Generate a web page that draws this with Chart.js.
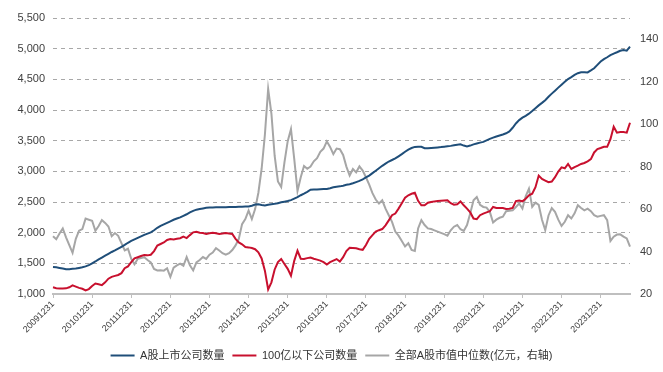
<!DOCTYPE html>
<html>
<head>
<meta charset="utf-8">
<script src="https://cdn.jsdelivr.net/npm/chart.js@4.4.1/dist/chart.umd.min.js"></script>
<style>
html, body { margin: 0; padding: 0; background: #fff; }
#wrap { width: 663px; height: 372px; position: relative; }
</style>
</head>
<body>
<div id="wrap"><canvas id="chart"></canvas></div>
<script>
// month-end dates, 2009-12 .. 2024-09
var categories = [];
for (var y = 2009; y <= 2024; y++) {
  for (var m = 1; m <= 12; m++) {
    if (y === 2009 && m < 12) continue;
    if (y === 2024 && m > 9) break;
    var d = new Date(y, m, 0).getDate();
    categories.push('' + y + (m < 10 ? '0' : '') + m + d);
  }
}

var tickLabels = ['20091231','20101231','20111231','20121231','20131231','20141231','20151231',
  '20161231','20171231','20181231','20191231','20201231','20211231','20221231','20231231'];
var rightTicks = [20, 40, 60, 80, 100, 120, 140];

// A股上市公司数量
var listed = [
  1440,1435,1425,1415,1405,1405,1410,1415,1425,1435,1450,1470,
  1500,1530,1565,1595,1625,1655,1685,1710,1740,1770,1800,1835,
  1865,1890,1915,1940,1965,1985,2005,2040,2080,2110,2135,2160,
  2185,2210,2230,2250,2275,2300,2330,2355,2375,2385,2395,2405,
  2410,2412,2414,2415,2415,2416,2418,2420,2420,2422,2423,2425,
  2428,2440,2460,2462,2450,2445,2455,2465,2470,2480,2495,2505,
  2515,2530,2555,2580,2610,2635,2665,2700,2705,2705,2708,2710,
  2712,2725,2740,2750,2755,2765,2780,2790,2805,2825,2845,2870,
  2900,2930,2970,3010,3050,3090,3125,3160,3185,3210,3245,3280,
  3320,3355,3380,3398,3402,3400,3378,3375,3380,3385,3390,3395,
  3402,3408,3415,3425,3433,3440,3420,3405,3420,3440,3455,3468,
  3480,3505,3530,3550,3568,3585,3600,3620,3650,3710,3780,3835,
  3875,3905,3940,3982,4030,4075,4116,4160,4215,4267,4315,4365,
  4413,4460,4505,4537,4572,4600,4615,4617,4612,4645,4680,4736,
  4790,4830,4860,4895,4920,4941,4965,4978,4968,5032
];

// 100亿以下公司数量
var small = [
  1110,1095,1090,1088,1092,1110,1140,1120,1100,1085,1060,1080,
  1130,1170,1160,1145,1190,1250,1280,1295,1310,1340,1420,1450,
  1520,1580,1600,1620,1635,1630,1640,1700,1790,1815,1840,1880,
  1895,1890,1900,1909,1935,1912,1960,2005,2015,2000,1995,1980,
  1990,2000,1990,1978,1985,1995,1985,1980,1900,1840,1810,1765,
  1760,1750,1730,1680,1580,1380,1075,1190,1400,1520,1570,1490,
  1410,1300,1540,1705,1575,1570,1585,1595,1575,1560,1545,1520,
  1480,1520,1545,1570,1530,1600,1700,1755,1750,1745,1730,1720,
  1800,1900,1960,2016,2040,2059,2120,2200,2285,2312,2392,2480,
  2570,2610,2634,2650,2520,2446,2446,2489,2500,2510,2515,2521,
  2525,2527,2480,2457,2462,2510,2446,2392,2330,2231,2220,2285,
  2311,2330,2349,2419,2403,2403,2403,2385,2390,2403,2515,2525,
  2511,2554,2608,2635,2742,2931,2877,2850,2823,2834,2904,2996,
  3066,3050,3120,3039,3070,3093,3120,3136,3163,3200,3308,3362,
  3380,3400,3400,3524,3728,3631,3642,3640,3631,3793
];

// 全部A股市值中位数(亿元), right axis
var median = [
  47.2,45.8,48.5,50.9,46.7,43,39.4,46,49.8,50.6,55.5,55,
  54.5,49.8,52,54.8,53.5,51.8,47.2,48.7,47.4,44,40.5,41.3,
  36.6,34,36.6,37,37.3,36,34.9,31.8,31.1,31.2,31,32.1,
  28.1,32.4,33.5,34.3,33.3,37.4,33.5,31.1,34.9,36,37.4,36.5,
  38.5,39.5,41.6,40.5,39.2,38.5,39.2,40.7,42.9,46,52.9,55.3,
  59.3,55.3,60,67.7,79,95,116.6,105,85,73,70.4,82,
  92,97.7,83.6,68.5,75,80.3,79,80,82.5,84,87,88.5,
  91.9,89.3,85.9,88.5,88.2,85.5,80,75.8,78.9,77.3,80.1,78.1,
  75,71.5,67.5,64.5,62.6,64.1,60.2,57.1,54,49.4,47.5,45,
  42.4,43.9,40.8,40.3,50.9,54.8,52.5,50.9,50.6,50,49.4,48.8,
  48.2,47.5,50,51.7,52.5,50.5,49.7,52.5,58,64.1,65.7,62,
  61,60.7,58.7,53.7,55,55.9,56.4,59,59.2,59.4,61,62.6,
  60.2,66,69.6,61,63,62,55,50.1,57,60.5,58.7,55,
  52.1,54,57.1,55.6,58,61.8,60.5,59.4,60.2,59,57.1,56.4,
  56.8,57.1,54.8,45,47,48,48.1,47,46.2,42.3
];

Chart.defaults.font.family = "'Liberation Sans', Arial, sans-serif";
Chart.defaults.color = '#404040';

var ctx = document.getElementById('chart');
var myChart = new Chart(ctx, {
  type: 'line',
  data: {
    labels: categories,
    datasets: [{
      label: 'A股上市公司数量',
      data: listed,
      borderColor: '#1f4e79',
      backgroundColor: '#1f4e79',
      borderWidth: 2,
      pointRadius: 0,
      tension: 0,
      yAxisID: 'y'
    }, {
      label: '100亿以下公司数量',
      data: small,
      borderColor: '#c8102e',
      backgroundColor: '#c8102e',
      borderWidth: 2,
      pointRadius: 0,
      tension: 0,
      yAxisID: 'y'
    }, {
      label: '全部A股市值中位数(亿元，右轴)',
      data: median,
      borderColor: '#a6a6a6',
      backgroundColor: '#a6a6a6',
      borderWidth: 2,
      pointRadius: 0,
      tension: 0,
      yAxisID: 'y2'
    }]
  },
  options: {
    responsive: true,
    maintainAspectRatio: false,
    animation: false,
    layout: { padding: { top: 18, right: 0, bottom: 1, left: 0 } },
    plugins: {
      tooltip: { enabled: false },
      legend: {
        position: 'bottom',
        labels: {
          usePointStyle: true,
          pointStyle: 'line',
          pointStyleWidth: 24,
          padding: 8,
          color: '#333',
          font: { family: "'Liberation Sans', 'Noto Sans CJK SC', sans-serif", size: 11 }
        }
      }
    },
    scales: {
      x: {
        offset: false,
        grid: {
          drawOnChartArea: false,
          drawTicks: true,
          tickLength: 4,
          tickWidth: 1,
          tickColor: '#bfbfbf',
          color: '#bfbfbf'
        },
        border: { display: true, color: '#bfbfbf', width: 2 },
        afterBuildTicks: function(scale) {
          scale.ticks = scale.ticks.filter(function(t) {
            return tickLabels.indexOf(categories[t.value]) >= 0;
          });
        },
        afterFit: function(scale) { scale.height = 48; },
        ticks: {
          autoSkip: false,
          maxRotation: 45,
          minRotation: 45,
          padding: 1,
          color: '#404040',
          font: { size: 9 }
        }
      },
      y: {
        position: 'left',
        min: 1000,
        max: 5500,
        grid: {
          color: '#a8a8a8',
          lineWidth: 1,
          drawTicks: false
        },
        border: { display: false, dash: [4, 4] },
        afterFit: function(scale) { scale.width = 53; },
        ticks: {
          stepSize: 500,
          padding: 8,
          color: '#404040',
          font: { size: 11 },
          callback: function(v) { return v.toLocaleString('en-US'); }
        }
      },
      y2: {
        position: 'right',
        min: 20,
        max: 150,
        grid: { display: false, drawOnChartArea: false, drawTicks: false },
        border: { display: false },
        afterBuildTicks: function(scale) {
          scale.ticks = rightTicks.map(function(v) { return { value: v }; });
        },
        afterFit: function(scale) { scale.width = 33; },
        ticks: {
          padding: 10,
          color: '#404040',
          font: { size: 11 }
        }
      }
    }
  }
});
</script>
</body>
</html>
